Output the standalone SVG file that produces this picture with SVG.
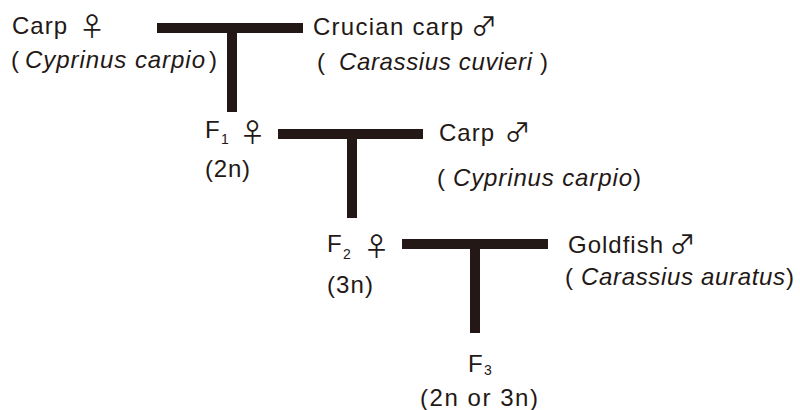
<svg xmlns="http://www.w3.org/2000/svg" width="800" height="410" viewBox="0 0 800 410">
<style>
  text { font-family: "Liberation Sans", Arial, sans-serif; font-size: 24px; fill: #231815; }
  .it { font-style: italic; }
  .sub { font-size: 14px; }
  .sym { font-family: "Noto Sans CJK JP", "DejaVu Sans", sans-serif; font-size: 26px; text-anchor: middle; }
  .bar { fill: #231815; }
</style>
<rect width="800" height="410" fill="#ffffff"/>
<g id="connectors">
  <rect class="bar" x="157" y="23" width="146" height="10"/>
  <rect class="bar" x="227" y="33" width="10" height="79"/>
  <rect class="bar" x="278" y="129" width="145" height="10"/>
  <rect class="bar" x="347" y="139" width="10" height="79"/>
  <rect class="bar" x="402" y="239" width="146" height="10"/>
  <rect class="bar" x="470" y="249" width="10" height="84"/>
</g>
<g id="carp-female">
  <text x="12" y="34" textLength="55" lengthAdjust="spacing">Carp</text>
  <text class="sym" x="92" y="36">♀</text>
  <text x="11" y="68">(</text>
  <text class="it" x="25" y="68" textLength="180" lengthAdjust="spacing">Cyprinus carpio</text>
  <text x="209" y="68">)</text>
</g>
<g id="crucian-carp-male">
  <text x="313" y="35" textLength="150" lengthAdjust="spacing">Crucian carp</text>
  <text class="sym" x="484" y="36">♂</text>
  <text x="317" y="70">(</text>
  <text class="it" x="339" y="70" textLength="193" lengthAdjust="spacing">Carassius cuvieri</text>
  <text x="540" y="70">)</text>
</g>
<g id="f1">
  <text x="205" y="138">F</text>
  <text class="sub" x="221" y="144">1</text>
  <text class="sym" x="252.5" y="142">♀</text>
  <text x="205" y="177" textLength="45" lengthAdjust="spacing">(2n)</text>
</g>
<g id="carp-male">
  <text x="439" y="141" textLength="55" lengthAdjust="spacing">Carp</text>
  <text class="sym" x="517.5" y="142">♂</text>
  <text x="437" y="186">(</text>
  <text class="it" x="453" y="186" textLength="179" lengthAdjust="spacing">Cyprinus carpio</text>
  <text x="633" y="186">)</text>
</g>
<g id="f2">
  <text x="327" y="252">F</text>
  <text class="sub" x="343" y="259">2</text>
  <text class="sym" x="376.5" y="256">♀</text>
  <text x="327" y="293" textLength="46" lengthAdjust="spacing">(3n)</text>
</g>
<g id="goldfish-male">
  <text x="568" y="253" textLength="95" lengthAdjust="spacing">Goldfish</text>
  <text class="sym" x="682.5" y="254">♂</text>
  <text x="565" y="285">(</text>
  <text class="it" x="581" y="285" textLength="204" lengthAdjust="spacing">Carassius auratus</text>
  <text x="786" y="285">)</text>
</g>
<g id="f3">
  <text x="468" y="372">F</text>
  <text class="sub" x="484" y="375">3</text>
  <text x="420" y="406" textLength="118" lengthAdjust="spacing">(2n or 3n)</text>
</g>
</svg>
